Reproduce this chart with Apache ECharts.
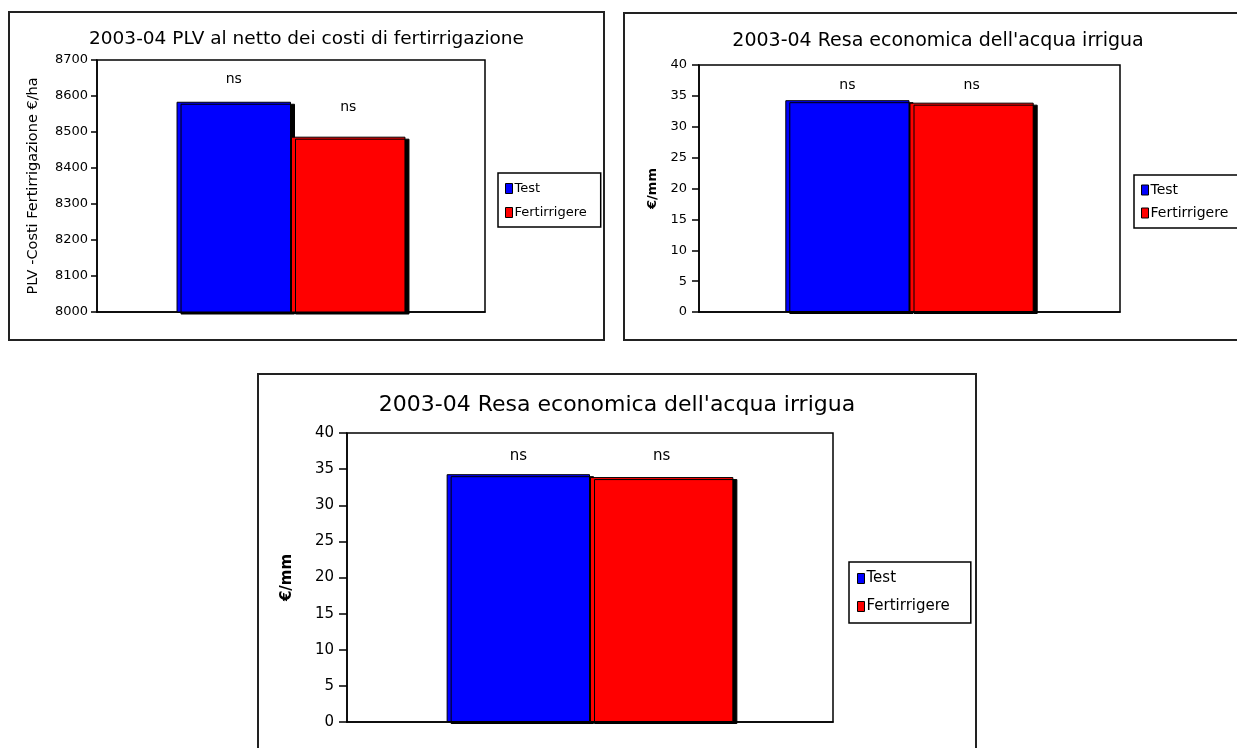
<!DOCTYPE html>
<html>
<head>
<meta charset="utf-8">
<title>2003-04 PLV e resa economica</title>
<script src="https://cdn.jsdelivr.net/npm/echarts@6/dist/echarts.min.js"></script>
<style>
    html, body { margin: 0; padding: 0; background: #fff; overflow: hidden; width: 1237px; height: 748px; }
    .panel { position: absolute; border: 2px solid #222; box-sizing: border-box; background: #fff; }
</style>
</head>
<body>
<div id="chart1" class="panel" style="left:8px;top:11px;width:597px;height:330px;"></div>
<div id="chart2" class="panel" style="left:623px;top:12px;width:630px;height:329px;"></div>
<div id="chart3" class="panel" style="left:257px;top:373px;width:720px;height:385px;"></div>
<script>
// dati
var categories = ['2003-04'];
var seriesNames = ['Test', 'Fertirrigere'];
var sigLabels = ['ns', 'ns'];
// PLV al netto dei costi di fertirrigazione (€/ha)
var plvTest = [8584];
var plvFert = [8487];
// resa economica dell'acqua irrigua (€/mm)
var resaTest = [34.3];
var resaFert = [33.9];

var FONT = 'DejaVu Sans, Verdana, sans-serif';

function drawPanel(domId, cfg) {
    var dom = document.getElementById(domId);
    var myChart = echarts.init(dom);
    var option = {
        animation: false,
        title: {
            text: cfg.title,
            left: 'center',
            top: cfg.titleTop,
            padding: 0,
            textStyle: {
                fontFamily: FONT,
                fontWeight: 'normal',
                fontSize: cfg.titleSize,
                color: '#000'
            }
        },
        legend: {
            orient: 'vertical',
            left: cfg.legend[0],
            top: cfg.legend[1],
            data: seriesNames,
            icon: 'rect',
            itemWidth: 7,
            itemHeight: 10,
            itemGap: cfg.legendGap,
            padding: cfg.legendPad,
            borderColor: '#000',
            borderWidth: 1.5,
            borderRadius: 0,
            itemStyle: {
                borderColor: '#000',
                borderWidth: 1
            },
            textStyle: {
                fontFamily: FONT,
                fontSize: cfg.legendSize,
                color: '#000',
                padding: [0, 0, 0, -3]
            }
        },
        grid: {
            left: cfg.grid[0],
            top: cfg.grid[1],
            width: cfg.grid[2],
            height: cfg.grid[3],
            show: true,
            borderColor: '#000',
            borderWidth: 1.5,
            containLabel: false
        },
        xAxis: {
            type: 'category',
            data: categories,
            axisLine: { lineStyle: { color: '#000', width: 1.5 } },
            axisTick: { show: false },
            axisLabel: { show: false },
            splitLine: { show: false }
        },
        yAxis: {
            type: 'value',
            min: cfg.yMin,
            max: cfg.yMax,
            interval: cfg.yStep,
            name: cfg.yName,
            nameLocation: 'middle',
            nameRotate: 90,
            nameGap: cfg.nameGap,
            nameTextStyle: {
                fontFamily: FONT,
                fontSize: cfg.nameSize,
                fontWeight: cfg.nameWeight,
                color: '#000'
            },
            axisLine: { show: true, lineStyle: { color: '#000', width: 1.5 } },
            axisTick: { show: true, inside: false, length: cfg.tickLen, lineStyle: { color: '#000', width: 1.5 } },
            axisLabel: {
                fontFamily: FONT,
                fontSize: cfg.tickSize,
                color: '#000',
                margin: cfg.tickMargin,
                formatter: function (v) { return String(v); }
            },
            splitLine: { show: false }
        },
        series: [{
            name: seriesNames[0],
            type: 'bar',
            data: cfg.data[0],
            barWidth: cfg.barWidth,
            barGap: '0%',
            itemStyle: {
                color: '#0000ff',
                borderColor: '#000',
                borderWidth: 1,
                shadowColor: '#000',
                shadowOffsetX: 4,
                shadowOffsetY: 2,
                shadowBlur: 0
            },
            label: {
                show: true,
                position: 'top',
                distance: cfg.labelDist[0],
                formatter: sigLabels[0],
                fontFamily: FONT,
                fontSize: cfg.labelSize,
                color: '#000'
            }
        }, {
            name: seriesNames[1],
            type: 'bar',
            data: cfg.data[1],
            barWidth: cfg.barWidth,
            itemStyle: {
                color: '#ff0000',
                borderColor: '#000',
                borderWidth: 1,
                shadowColor: '#000',
                shadowOffsetX: 4,
                shadowOffsetY: 2,
                shadowBlur: 0
            },
            label: {
                show: true,
                position: 'top',
                distance: cfg.labelDist[1],
                formatter: sigLabels[1],
                fontFamily: FONT,
                fontSize: cfg.labelSize,
                color: '#000'
            }
        }]
    };
    myChart.setOption(option, true);
    return myChart;
}

drawPanel('chart1', {
    title: '2003-04 PLV al netto dei costi di fertirrigazione',
    titleTop: 17, titleSize: 18.5,
    grid: [87, 47, 388, 252],
    legend: [488, 160], legendGap: 11, legendSize: 13, legendPad: [9, 14, 8, 7],
    yMin: 8000, yMax: 8700, yStep: 100,
    yName: 'PLV -Costi Fertirrigazione €/ha', nameGap: 56, nameSize: 14.5, nameWeight: 'normal',
    tickSize: 13, tickLen: 6, tickMargin: 9,
    labelSize: 14, labelDist: [15, 22],
    barWidth: '29.5%',
    data: [plvTest, plvFert]
});

drawPanel('chart2', {
    title: "2003-04 Resa economica dell'acqua irrigua",
    titleTop: 18, titleSize: 19,
    grid: [74, 51, 421, 247],
    legend: [509, 161], legendGap: 9, legendSize: 14, legendPad: [8, 14, 8, 7],
    yMin: 0, yMax: 40, yStep: 5,
    yName: '€/mm', nameGap: 40, nameSize: 13, nameWeight: 'bold',
    tickSize: 13, tickLen: 7, tickMargin: 12,
    labelSize: 14, labelDist: [8, 10],
    barWidth: '29.5%',
    data: [resaTest, resaFert]
});

drawPanel('chart3', {
    title: "2003-04 Resa economica dell'acqua irrigua",
    titleTop: 19, titleSize: 22,
    grid: [88, 58, 486, 289],
    legend: [590, 187], legendGap: 13, legendSize: 15, legendPad: [9, 21, 9, 8],
    yMin: 0, yMax: 40, yStep: 5,
    yName: '€/mm', nameGap: 52, nameSize: 15, nameWeight: 'bold',
    tickSize: 15, tickLen: 8, tickMargin: 13,
    labelSize: 15, labelDist: [11, 13],
    barWidth: '29.5%',
    data: [resaTest, resaFert]
});
</script>
</body>
</html>
